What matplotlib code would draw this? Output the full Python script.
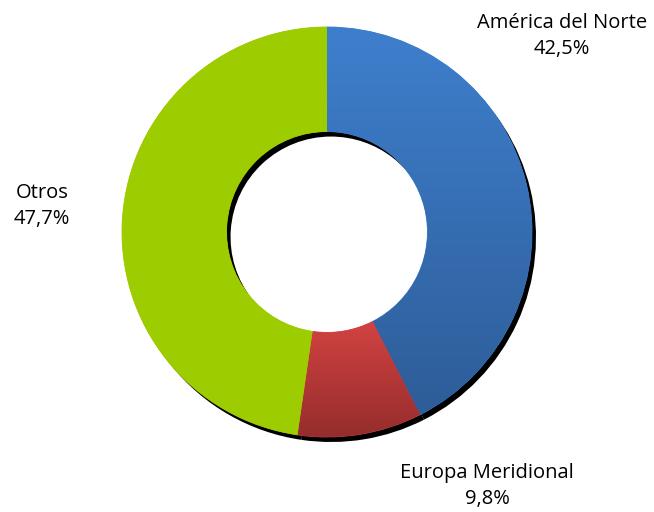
import matplotlib.pyplot as plt
import matplotlib.colors as mcolors
import numpy as np

# datos del gráfico
regiones = ['América del Norte', 'Europa Meridional', 'Otros']
porcentajes = [42.5, 9.8, 47.7]
etiquetas = ['42,5%', '9,8%', '47,7%']
colores_arriba = ['#3e7fcd', '#d24342', '#9dcc00']
colores_abajo = ['#2e5d98', '#952d2c', '#9dcc00']

plt.rcParams['font.family'] = ['Open Sans', 'DejaVu Sans']

fig = plt.figure(figsize=(6.54, 5.12), dpi=100)
ax = fig.add_axes([0, 0, 1, 1])

centro = (327, 280)
radio = 205
ancho = 0.51

# sombra
ax.pie(porcentajes, colors=['black'] * 3, startangle=90, counterclock=False,
       center=(centro[0] + 4, centro[1] - 5), radius=radio,
       wedgeprops=dict(width=radio * ancho, linewidth=0), frame=True)

cunas, _ = ax.pie(porcentajes, colors=colores_arriba, startangle=90, counterclock=False,
                  center=centro, radius=radio,
                  wedgeprops=dict(width=radio * ancho, linewidth=0.6), frame=True)

# degradado vertical en cada sector
for cuna, c1, c2 in zip(cunas, colores_arriba, colores_abajo):
    bb = cuna.get_path().get_extents(cuna.get_patch_transform())
    cmap = mcolors.LinearSegmentedColormap.from_list('g', [c2, c1])
    grad = np.linspace(0, 1, 256).reshape(-1, 1)
    im = ax.imshow(grad, cmap=cmap, origin='lower', aspect='auto',
                   extent=[bb.x0, bb.x1, bb.y0, bb.y1], zorder=cuna.get_zorder() + 0.1)
    im.set_clip_path(cuna)
    cuna.set_edgecolor(c1)

ax.set_xlim(0, 654)
ax.set_ylim(0, 512)
ax.set_aspect('equal')
ax.axis('off')

fs = 14.5
pos = [(562, 476), (487, 26), (42, 306)]
for reg, et, (x, y) in zip(regiones, etiquetas, pos):
    ax.text(x, y, reg + '\n' + et, ha='center', va='center', fontsize=fs, linespacing=1.38)

fig.savefig('out.png', dpi=100)
